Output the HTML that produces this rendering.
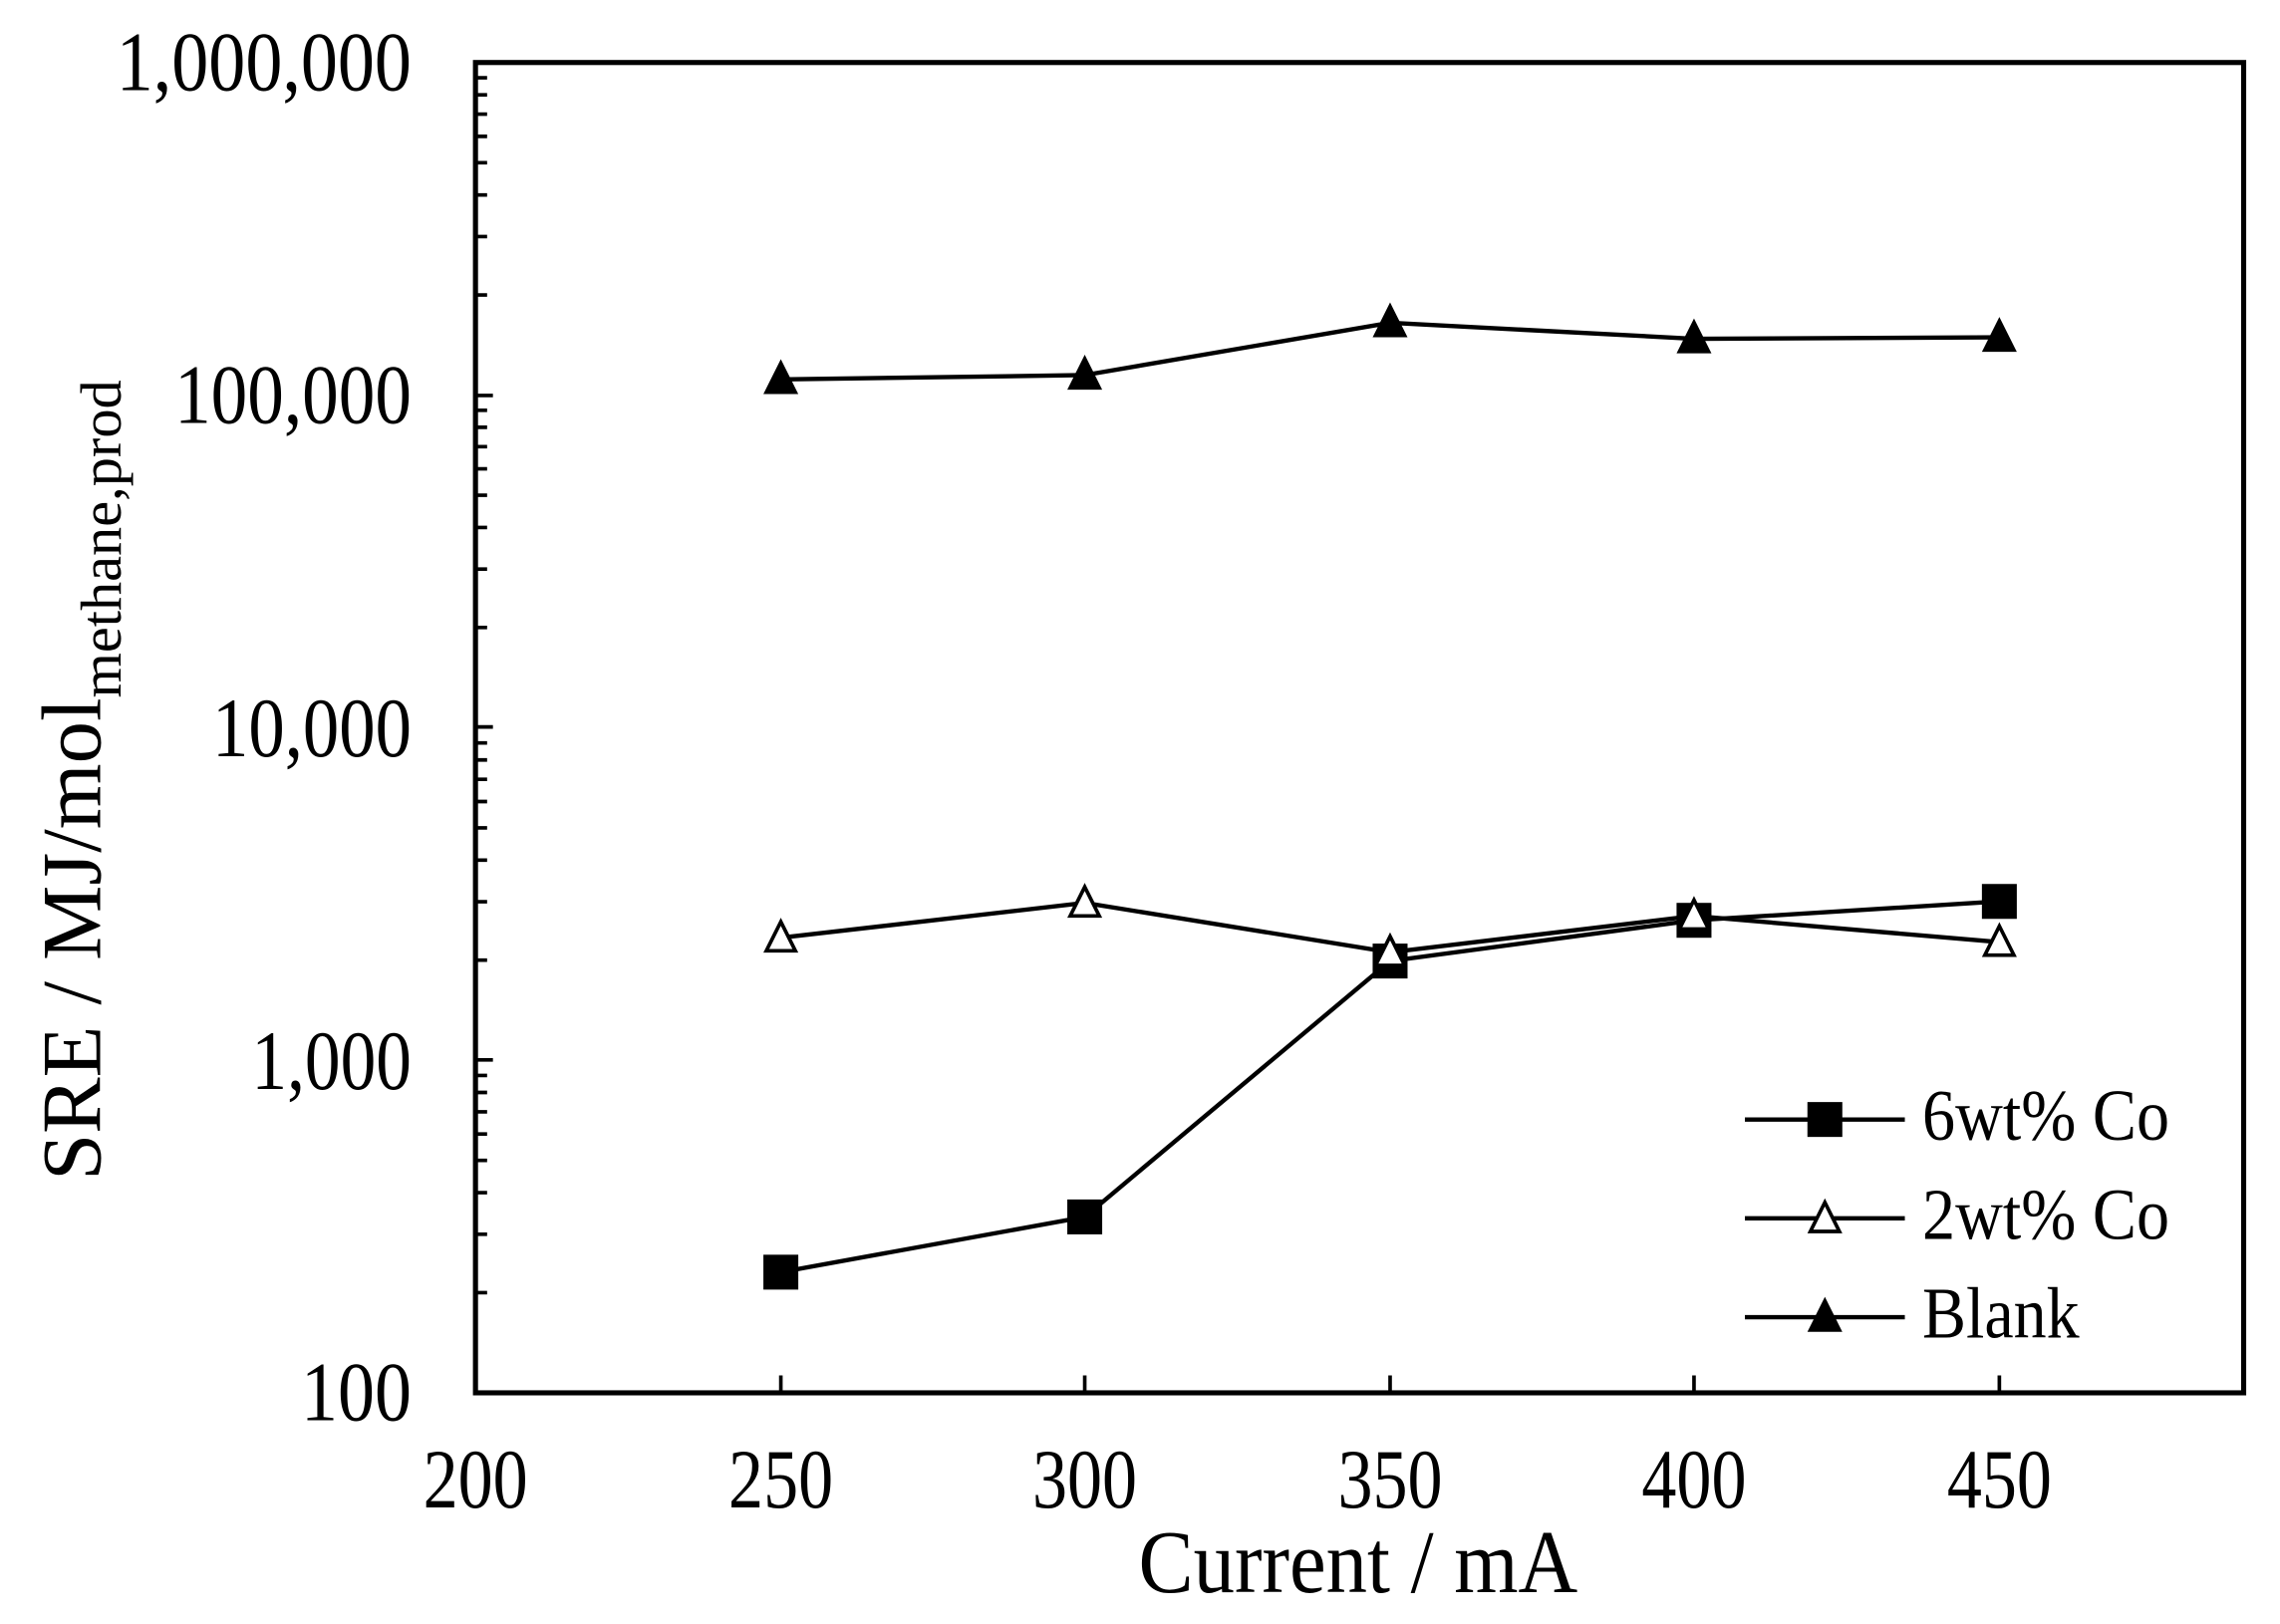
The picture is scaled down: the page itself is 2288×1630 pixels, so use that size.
<!DOCTYPE html>
<html><head><style>html,body{margin:0;padding:0;background:#fff}svg{display:block}</style></head>
<body>
<svg width="2288" height="1630" viewBox="0 0 1568 1117" preserveAspectRatio="none" xmlns="http://www.w3.org/2000/svg" font-family="Liberation Serif, serif">
<rect width="1568" height="1117" fill="#fff"/>
<g stroke="#000" fill="none">
<rect x="327" y="43" width="1216" height="915" stroke-width="3.5"/>
<path stroke-width="2.5" d="M327 729h12M327 500h12M327 272h12
M327 889.1h8M327 848.9h8M327 820.3h8M327 798.1h8M327 780h8M327 764.7h8M327 751.4h8M327 739.7h8
M327 660.4h8M327 620.2h8M327 591.6h8M327 569.4h8M327 551.3h8M327 536h8M327 522.7h8M327 511h8
M327 431.6h8M327 391.4h8M327 362.8h8M327 340.6h8M327 322.5h8M327 307.2h8M327 293.9h8M327 282.2h8
M327 202.9h8M327 162.7h8M327 134.1h8M327 111.9h8M327 93.8h8M327 78.5h8M327 65.2h8M327 53.5h8
M537 958v-12M746 958v-12M956 958v-12M1165 958v-12M1375 958v-12"/>
<polyline stroke-width="3" points="537,261 746,258 956,222 1165,233 1375,232"/>
<polyline stroke-width="3" points="537,875 746,837 956,661 1165,633 1375,620"/>
<polyline stroke-width="3" points="537,645 746,621 956,655 1165,630 1375,648"/>
<path stroke-width="3" d="M1200 770h110M1200 838h110M1200 906h110"/>
</g>
<g fill="#000">
<rect x="525" y="863" width="24" height="24"/><rect x="734" y="825" width="24" height="24"/><rect x="944" y="649" width="24" height="24"/><rect x="1153" y="621" width="24" height="24"/><rect x="1363" y="608" width="24" height="24"/>
<path d="M537 247l12 24h-24zM746 244l12 24h-24zM956 208l12 24h-24zM1165 219l12 24h-24zM1375 218l12 24h-24z"/>
<rect x="1243" y="758" width="24" height="24"/>
<path d="M1255 892l12 24h-24z"/>
</g>
<g fill="#fff" stroke="#000" stroke-width="2.5">
<path d="M537 634l10 20h-20zM746 610l10 20h-20zM956 644l10 20h-20zM1165 619l10 20h-20zM1375 637l10 20h-20zM1255 827l10 20h-20z"/>
</g>
<g font-size="58">
<text x="80" y="62" textLength="203" lengthAdjust="spacingAndGlyphs">1,000,000</text>
<text x="120" y="291" textLength="163" lengthAdjust="spacingAndGlyphs">100,000</text>
<text x="146" y="520" textLength="137" lengthAdjust="spacingAndGlyphs">10,000</text>
<text x="173" y="749" textLength="110" lengthAdjust="spacingAndGlyphs">1,000</text>
<text x="207" y="977" textLength="76" lengthAdjust="spacingAndGlyphs">100</text>
<text x="291" y="1037" textLength="72" lengthAdjust="spacingAndGlyphs">200</text>
<text x="501" y="1037" textLength="72" lengthAdjust="spacingAndGlyphs">250</text>
<text x="710" y="1037" textLength="72" lengthAdjust="spacingAndGlyphs">300</text>
<text x="920" y="1037" textLength="72" lengthAdjust="spacingAndGlyphs">350</text>
<text x="1129" y="1037" textLength="72" lengthAdjust="spacingAndGlyphs">400</text>
<text x="1339" y="1037" textLength="72" lengthAdjust="spacingAndGlyphs">450</text>
</g>
<text x="783" y="1095" font-size="62" textLength="302" lengthAdjust="spacingAndGlyphs">Current / mA</text>
<g font-size="50">
<text x="1322" y="784" textLength="170" lengthAdjust="spacingAndGlyphs">6wt% Co</text>
<text x="1322" y="852" textLength="170" lengthAdjust="spacingAndGlyphs">2wt% Co</text>
<text x="1322" y="920" textLength="108" lengthAdjust="spacingAndGlyphs">Blank</text>
</g>
<text transform="translate(69,812) rotate(-90)" font-size="58">SRE / MJ/mol<tspan font-size="40" dy="14">methane,prod</tspan></text>
</svg>
</body></html>
